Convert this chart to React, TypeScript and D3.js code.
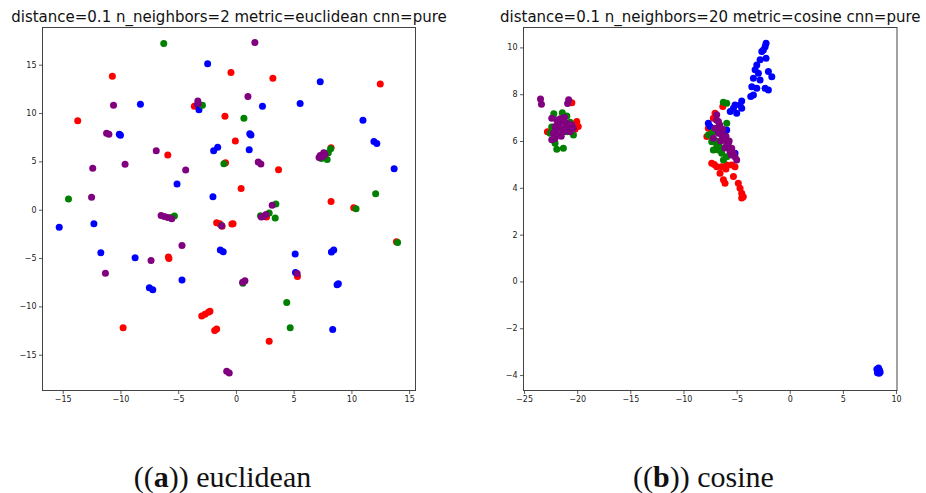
import React, { useEffect, useRef } from "react";
import { axisBottom, axisLeft, scaleLinear, select } from "d3";

type Pt = [number, number];

// ---- panel (a): euclidean ----
const euclidTitle = "distance=0.1 n_neighbors=2 metric=euclidean cnn=pure";
const euclidXTicks = [-15, -10, -5, 0, 5, 10, 15];
const euclidYTicks = [-15, -10, -5, 0, 5, 10, 15];

const euclidRed: Pt[] = [
  [-10.7, 13.8], [-0.43, 14.2], [3.2, 13.6], [12.5, 13.0], [-3.6, 10.7], [-0.95, 9.66],
  [-13.7, 9.2], [-0.05, 7.1], [-5.9, 5.66], [-0.9, 4.85], [3.69, 4.14], [0.45, 2.2],
  [8.24, 0.86], [10.2, 0.2], [2.65, -0.76], [-0.35, -1.48], [-0.25, -1.45], [-1.67, -1.35],
  [-1.4, -1.45], [-1.2, -1.7], [13.9, -3.3], [-5.85, -4.9], [-5.8, -5.05], [5.33, -6.9],
  [-2.96, -11.0], [-2.68, -10.8], [-2.39, -10.6], [-2.25, -10.5], [-9.77, -12.2],
  [-1.84, -12.5], [-1.67, -12.35], [2.88, -13.6], [8.24, 6.4],
];
const euclidBlue: Pt[] = [
  [-2.45, 15.1], [7.3, 13.25], [-8.27, 10.9], [2.3, 10.7], [5.56, 11.0], [-3.2, 10.35],
  [-3.3, 10.9], [11.0, 9.25], [-10.1, 7.8], [-10.0, 7.7], [1.3, 7.73], [1.2, 7.85],
  [11.95, 7.07], [12.2, 6.86], [-1.93, 6.1], [-1.58, 6.45], [1.15, 6.2], [13.7, 4.24],
  [-5.1, 2.66], [-1.99, 1.35], [-15.3, -1.8], [-12.3, -1.45], [-11.7, -4.45], [-8.73, -4.97],
  [-1.35, -4.17], [-1.1, -4.35], [5.13, -4.59], [8.27, -4.38], [8.47, -4.17], [-4.67, -7.28],
  [-7.5, -8.07], [-7.2, -8.28], [5.16, -6.49], [8.76, -7.76], [8.87, -7.66], [8.38, -12.4],
];
const euclidGreen: Pt[] = [
  [-6.25, 17.2], [-2.9, 10.8], [0.69, 9.45], [-1.04, 4.76], [-14.5, 1.1], [12.1, 1.66],
  [10.4, 0.1], [3.46, 0.59], [3.4, -0.86], [2.88, -0.35], [2.13, -0.62], [-5.33, -0.66],
  [-5.6, -0.8], [-1.24, -1.62], [14.0, -3.38], [0.6, -7.6], [4.4, -9.6], [4.7, -12.2],
  [7.4, 5.3], [7.9, 5.2], [8.2, 6.3], [8.0, 5.9],
];
const euclidPurple: Pt[] = [
  [1.64, 17.3], [-3.26, 11.0], [-3.3, 11.25], [-10.6, 10.8], [1.04, 11.7], [-11.2, 7.9],
  [-11.0, 7.8], [-6.9, 6.1], [-12.4, 4.3], [-9.6, 4.7], [-4.35, 4.1], [1.93, 4.93],
  [2.16, 4.73], [-12.5, 1.3], [3.14, 0.45], [2.39, -0.69], [2.6, -0.5], [2.2, -0.75],
  [-6.48, -0.59], [-6.2, -0.69], [-5.9, -0.8], [-5.56, -0.93], [-1.24, -1.65], [-4.67, -3.69],
  [-7.35, -5.24], [-11.3, -6.56], [5.3, -6.6], [0.58, -7.49], [0.78, -7.35], [-0.8, -16.7],
  [-0.58, -16.9], [7.2, 5.4], [7.5, 5.5], [7.7, 5.7], [7.6, 5.9], [7.3, 5.6],
];

// ---- panel (b): cosine ----
const cosineTitle = "distance=0.1 n_neighbors=20 metric=cosine cnn=pure";
const cosineXTicks = [-25, -20, -15, -10, -5, 0, 5, 10];
const cosineYTicks = [-4, -2, 0, 2, 4, 6, 8, 10];

const cosineRed: Pt[] = [
  [-20.5, 7.64], [-20.04, 6.83], [-19.9, 6.62], [-22.8, 6.4], [-20.2, 6.5],
  [-6.3, 7.47], [-7.03, 7.19], [-7.19, 6.97], [-7.66, 6.55], [-7.34, 6.33], [-7.8, 6.19],
  [-7.34, 5.05], [-6.87, 4.9], [-6.4, 4.9], [-5.93, 4.98], [-5.46, 4.98], [-5.15, 4.9],
  [-6.56, 4.62], [-6.24, 4.34], [-6.09, 4.2], [-5.3, 4.48], [-4.84, 4.2], [-4.68, 3.98],
  [-4.52, 3.77], [-4.37, 3.62], [-4.52, 3.56], [-7.1, 5.0], [-6.0, 4.8],
];
const cosineBlue: Pt[] = [
  [-2.23, 10.18], [-2.32, 10.03], [-2.48, 9.89], [-2.63, 9.82], [-2.23, 9.54], [-2.79, 9.47],
  [-3.1, 9.25], [-3.26, 9.04], [-2.95, 8.9], [-2.01, 8.97], [-1.69, 8.75], [-3.42, 8.68],
  [-2.79, 8.61], [-3.57, 8.32], [-3.1, 8.25], [-2.32, 8.25], [-2.01, 8.18], [-3.42, 7.97],
  [-3.67, 7.9], [-4.52, 7.71], [-4.68, 7.54], [-5.3, 7.4], [-4.99, 7.19], [-5.6, 7.26],
  [-5.15, 7.54], [-4.52, 7.4], [-7.66, 6.76], [-7.5, 6.62], [-5.93, 6.47], [-5.15, 5.48],
  [8.2, -3.75], [8.35, -3.7], [8.45, -3.8], [8.25, -3.9], [8.4, -3.92], [8.3, -3.85], [8.5, -3.88],
];
const cosineGreen: Pt[] = [
  [-22.2, 7.16], [-21.4, 7.21], [-20.97, 7.07], [-22.4, 6.6], [-22.55, 6.33], [-20.97, 6.4],
  [-20.35, 6.26], [-22.08, 5.9], [-21.92, 5.65], [-21.3, 5.69], [-20.66, 6.8],
  [-6.25, 7.66], [-5.93, 7.61], [-7.5, 6.26], [-7.34, 5.97], [-6.87, 5.83], [-6.71, 5.62],
  [-6.4, 5.48], [-5.93, 5.33], [-5.93, 6.76], [-7.66, 6.26], [-7.19, 5.62], [-6.24, 5.19],
  [-7.2, 6.4], [-6.9, 6.0], [-6.6, 5.75],
];
const cosinePurple: Pt[] = [
  [-23.45, 7.79], [-23.36, 7.57], [-20.8, 7.76], [-20.9, 7.6],
  [-22.39, 6.97], [-21.92, 6.9], [-21.45, 6.83], [-20.98, 6.76], [-20.51, 6.69], [-22.08, 6.62],
  [-21.61, 6.55], [-21.3, 6.4], [-22.24, 6.33], [-21.77, 6.26], [-20.67, 6.4], [-20.36, 6.55],
  [-22.39, 6.05], [-22.08, 6.12], [-21.8, 6.7], [-21.1, 6.6], [-21.5, 6.2], [-22.0, 6.45],
  [-20.8, 6.5], [-21.2, 7.0], [-21.6, 6.95],
  [-6.87, 7.12], [-6.71, 6.83], [-6.56, 6.55], [-6.71, 6.33], [-6.4, 6.26], [-6.25, 6.05],
  [-5.93, 5.83], [-5.78, 5.9], [-5.46, 5.69], [-5.3, 5.48], [-5.62, 5.55], [-7.03, 6.55],
  [-7.19, 6.12], [-5.15, 5.33], [-4.99, 5.19], [-6.9, 6.9], [-6.6, 6.7], [-6.3, 6.5],
  [-6.0, 6.2], [-5.7, 6.0], [-6.5, 6.0], [-6.1, 5.7], [-5.5, 5.4],
];

const colors = { red: "#ff0000", blue: "#0000ff", green: "#008000", purple: "#800080" };
const font = "'DejaVu Sans', sans-serif";

type PanelProps = {
  title: string;
  left: number;
  right: number;
  xDomain: [number, number];
  yDomain: [number, number];
  xTicks: number[];
  yTicks: number[];
  series: { pts: Pt[]; color: string }[];
};

const top = 27.5;
const bottom = 390.5;

function Panel({ title, left, right, xDomain, yDomain, xTicks, yTicks, series }: PanelProps) {
  const xRef = useRef<SVGGElement>(null);
  const yRef = useRef<SVGGElement>(null);
  const x = scaleLinear().domain(xDomain).range([left, right]);
  const y = scaleLinear().domain(yDomain).range([bottom, top]);

  useEffect(() => {
    const style = (g: any) => {
      g.select(".domain").remove();
      g.selectAll("line").attr("stroke", "#333").attr("stroke-width", 0.8);
      g.selectAll("text").attr("fill", "#222").style("font-family", font).style("font-size", "8px");
    };
    select(xRef.current!)
      .call(axisBottom(x).tickValues(xTicks).tickSize(3.5).tickPadding(2).tickSizeOuter(0) as any)
      .call(style);
    select(yRef.current!)
      .call(axisLeft(y).tickValues(yTicks).tickSize(3.5).tickPadding(2.5).tickSizeOuter(0) as any)
      .call(style);
  });

  return (
    <g>
      <text
        x={(left + right) / 2}
        y={22}
        textAnchor="middle"
        fontFamily={font}
        fontSize={15}
        fill="#111"
      >
        {title}
      </text>
      {series.map((s, i) => (
        <g key={i}>
          {s.pts.map((d, j) => (
            <circle key={j} cx={x(d[0])} cy={y(d[1])} r={3.5} fill={s.color} />
          ))}
        </g>
      ))}
      <rect
        x={left}
        y={top}
        width={right - left}
        height={bottom - top}
        fill="none"
        stroke="#444"
        strokeWidth={1}
      />
      <g ref={xRef} transform={`translate(0,${bottom})`} />
      <g ref={yRef} transform={`translate(${left},0)`} />
    </g>
  );
}

export default function App() {
  return (
    <div style={{ position: "fixed", left: 0, top: 0 }}>
      <svg width={926} height={493} style={{ display: "block", background: "#fff" }}>
        <Panel
          title={euclidTitle}
          left={42.5}
          right={415.5}
          xDomain={[-16.75, 15.55]}
          yDomain={[-18.7, 18.85]}
          xTicks={euclidXTicks}
          yTicks={euclidYTicks}
          series={[
            { pts: euclidRed, color: colors.red },
            { pts: euclidBlue, color: colors.blue },
            { pts: euclidGreen, color: colors.green },
            { pts: euclidPurple, color: colors.purple },
          ]}
        />
        <Panel
          title={cosineTitle}
          left={523.5}
          right={897}
          xDomain={[-25.05, 10.09]}
          yDomain={[-4.66, 10.85]}
          xTicks={cosineXTicks}
          yTicks={cosineYTicks}
          series={[
            { pts: cosineRed, color: colors.red },
            { pts: cosineBlue, color: colors.blue },
            { pts: cosineGreen, color: colors.green },
            { pts: cosinePurple, color: colors.purple },
          ]}
        />
        <text x={222.5} y={487} textAnchor="middle" fontFamily="'Liberation Serif', serif" fontSize={30} fill="#111">
          ((<tspan fontWeight="bold">a</tspan>)) euclidean
        </text>
        <text x={703.5} y={487} textAnchor="middle" fontFamily="'Liberation Serif', serif" fontSize={30} fill="#111">
          ((<tspan fontWeight="bold">b</tspan>)) cosine
        </text>
      </svg>
    </div>
  );
}
